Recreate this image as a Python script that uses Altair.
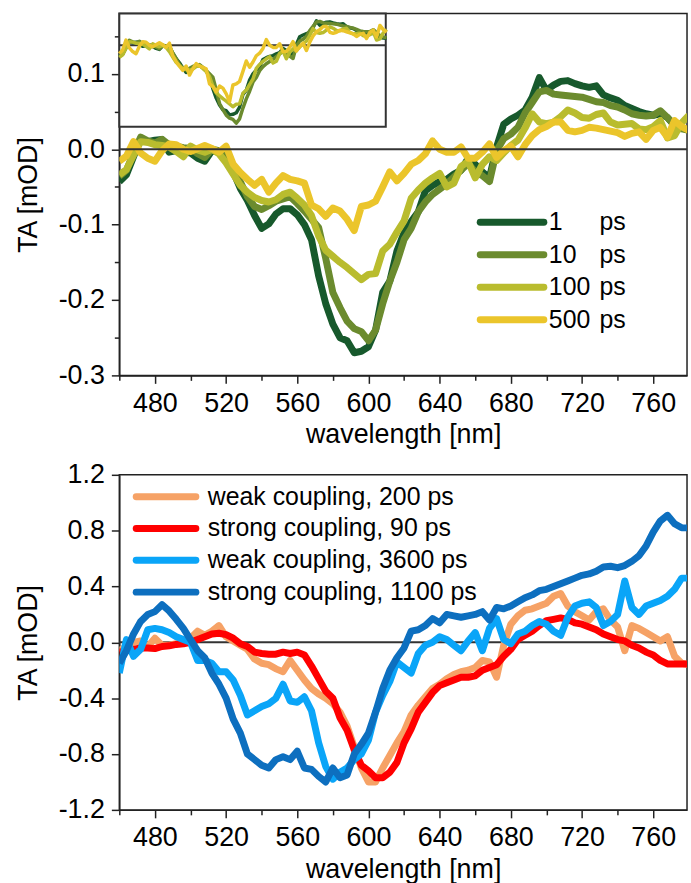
import altair as alt
import pandas as pd

# ---------------- data ----------------
wavelength = [460, 464, 468, 472, 476, 480, 484, 488, 492, 496, 500, 504, 508, 512, 516, 520,
              524, 528, 532, 536, 540, 544, 548, 552, 556, 560, 564, 568, 572, 576, 580, 584,
              588, 592, 596, 600, 604, 608, 612, 616, 620, 624, 628, 632, 636, 640, 644, 648,
              652, 656, 660, 664, 668, 672, 676, 680, 684, 688, 692, 696, 700, 704, 708, 712,
              716, 720, 724, 728, 732, 736, 740, 744, 748, 752, 756, 760, 764, 768, 772, 776, 780]

ta_1ps = [-0.043, -0.034, -0.010, 0.014, 0.010, 0.012, 0.013, -0.004, -0.002, -0.003, -0.005, -0.012,
          -0.016, -0.002, -0.004, -0.006, -0.030, -0.052, -0.068, -0.088, -0.105, -0.099, -0.086, -0.079,
          -0.079, -0.087, -0.100, -0.120, -0.168, -0.205, -0.232, -0.250, -0.254, -0.270, -0.268, -0.262,
          -0.240, -0.190, -0.175, -0.135, -0.111, -0.096, -0.083, -0.055, -0.048, -0.043, -0.040, -0.033,
          -0.028, -0.012, -0.020, -0.030, -0.038, 0.003, 0.033, 0.040, 0.045, 0.052, 0.069, 0.095,
          0.078, 0.085, 0.090, 0.091, 0.087, 0.084, 0.082, 0.084, 0.072, 0.068, 0.065, 0.058,
          0.054, 0.050, 0.047, 0.045, 0.047, 0.042, 0.031, 0.028, 0.027]
ta_10ps = [-0.036, -0.028, -0.005, 0.016, 0.011, 0.008, 0.013, 0.006, 0.004, 0.002, 0.001, -0.006,
           -0.011, 0.000, -0.002, -0.003, -0.025, -0.043, -0.063, -0.076, -0.080, -0.075, -0.069, -0.066,
           -0.063, -0.072, -0.082, -0.093, -0.104, -0.145, -0.190, -0.210, -0.228, -0.238, -0.242, -0.254,
           -0.240, -0.205, -0.175, -0.150, -0.120, -0.105, -0.083, -0.070, -0.060, -0.053, -0.046, -0.037,
           -0.028, -0.019, -0.030, -0.035, -0.043, -0.002, 0.014, 0.020, 0.029, 0.048, 0.062, 0.076,
           0.078, 0.073, 0.072, 0.071, 0.070, 0.069, 0.066, 0.063, 0.062, 0.058, 0.056, 0.052,
           0.047, 0.045, 0.044, 0.045, 0.051, 0.042, 0.032, 0.027, 0.025]
ta_100ps = [-0.034, -0.027, -0.008, 0.010, 0.009, 0.006, 0.005, 0.003, -0.003, -0.010, 0.004, -0.001,
            -0.004, 0.000, -0.006, -0.018, -0.033, -0.048, -0.057, -0.064, -0.068, -0.070, -0.067, -0.060,
            -0.057, -0.065, -0.074, -0.088, -0.115, -0.134, -0.142, -0.150, -0.157, -0.165, -0.173, -0.166,
            -0.165, -0.135, -0.126, -0.110, -0.095, -0.065, -0.054, -0.045, -0.038, -0.032, -0.050, -0.045,
            -0.023, -0.016, -0.038, -0.020, -0.010, -0.015, -0.005, 0.005, 0.012, 0.028, 0.047, 0.036,
            0.034, 0.036, 0.043, 0.052, 0.048, 0.042, 0.041, 0.046, 0.048, 0.036, 0.032, 0.033,
            0.034, 0.027, 0.026, 0.030, 0.038, 0.015, 0.018, 0.035, 0.045]
ta_500ps = [-0.016, -0.009, 0.010, -0.005, -0.012, -0.016, -0.002, 0.007, 0.006, 0.000, -0.003, 0.001,
            0.005, 0.001, -0.004, 0.004, -0.020, -0.031, -0.040, -0.048, -0.040, -0.057, -0.045, -0.035,
            -0.040, -0.042, -0.045, -0.074, -0.079, -0.089, -0.078, -0.082, -0.093, -0.108, -0.076, -0.074,
            -0.069, -0.050, -0.030, -0.042, -0.032, -0.020, -0.015, -0.006, 0.011, 0.000, -0.004, -0.004,
            0.003, -0.012, -0.012, -0.004, 0.007, -0.011, -0.002, 0.004, -0.010, 0.006, 0.018, 0.026,
            0.030, 0.036, 0.036, 0.025, 0.023, 0.025, 0.029, 0.028, 0.026, 0.024, 0.022, 0.017,
            0.021, 0.023, 0.013, 0.025, 0.029, 0.016, 0.038, 0.030, 0.025]

top_numbers = ["1", "10", "100", "500"]
top_colors = ["#17592c", "#6b8b2e", "#b9bc2e", "#ebc52b"]
inset_scale = [3.7, 4.4, 5.1, 7.5]

weak_200 = [-0.06, -0.03, 0.00, 0.01, -0.03, 0.03, -0.02, -0.02, -0.01, 0.00, 0.03, 0.08,
            0.05, 0.08, 0.12, 0.04, 0.01, -0.02, -0.05, -0.12, -0.15, -0.16, -0.19, -0.21,
            -0.13, -0.20, -0.27, -0.33, -0.37, -0.40, -0.44, -0.50, -0.60, -0.75, -0.90, -1.00,
            -1.00, -0.90, -0.81, -0.72, -0.64, -0.52, -0.45, -0.39, -0.33, -0.30, -0.26, -0.23,
            -0.21, -0.20, -0.18, -0.13, -0.14, -0.25, -0.02, 0.13, 0.19, 0.23, 0.24, 0.26,
            0.28, 0.33, 0.35, 0.26, 0.22, 0.19, 0.16, 0.22, 0.24, 0.16, 0.11, -0.06,
            0.12, 0.10, 0.07, 0.04, 0.01, 0.04, -0.10, -0.15, -0.16]
strong_90 = [-0.07, -0.06, -0.05, -0.04, -0.04, -0.045, -0.03, -0.025, -0.015, -0.01, 0.00, 0.02,
             0.04, 0.06, 0.065, 0.055, 0.03, -0.01, -0.03, -0.07, -0.08, -0.085, -0.085, -0.07,
             -0.08, -0.07, -0.09, -0.17, -0.26, -0.35, -0.40, -0.54, -0.63, -0.77, -0.88, -0.92,
             -0.97, -0.97, -0.93, -0.86, -0.72, -0.62, -0.50, -0.43, -0.36, -0.31, -0.29, -0.27,
             -0.25, -0.25, -0.24, -0.20, -0.18, -0.16, -0.10, -0.05, 0.02, 0.05, 0.08, 0.12,
             0.155, 0.165, 0.175, 0.165, 0.14, 0.13, 0.11, 0.09, 0.06, 0.04, 0.02, 0.01,
             -0.02, -0.04, -0.07, -0.09, -0.13, -0.155, -0.155, -0.155, -0.155]
weak_3600 = [-0.22, 0.02, -0.10, -0.05, 0.09, 0.10, 0.09, 0.07, 0.04, 0.02, 0.00, -0.13,
             -0.13, -0.15, -0.21, -0.21, -0.27, -0.38, -0.52, -0.49, -0.46, -0.44, -0.40, -0.30,
             -0.42, -0.43, -0.39, -0.49, -0.72, -0.89, -0.98, -0.93, -0.90, -0.84, -0.80, -0.70,
             -0.50, -0.38, -0.28, -0.14, -0.18, -0.22, -0.08, -0.02, 0.00, 0.04, 0.02, -0.02,
             -0.06, 0.01, 0.07, -0.06, 0.10, 0.17, 0.02, -0.01, 0.06, 0.08, 0.12, 0.15,
             0.13, 0.08, 0.05, 0.18, 0.26, 0.28, 0.29, 0.25, 0.12, 0.15, 0.20, 0.44,
             0.25, 0.20, 0.26, 0.28, 0.30, 0.33, 0.38, 0.46, 0.46]
strong_1100 = [-0.15, -0.06, 0.06, 0.15, 0.20, 0.22, 0.27, 0.225, 0.165, 0.10, 0.02, -0.06,
               -0.11, -0.22, -0.30, -0.40, -0.55, -0.65, -0.80, -0.84, -0.88, -0.90, -0.84, -0.82,
               -0.84, -0.78, -0.90, -0.91, -0.96, -1.00, -0.90, -0.97, -0.95, -0.80, -0.73, -0.65,
               -0.50, -0.33, -0.20, -0.11, -0.04, 0.08, 0.09, 0.12, 0.17, 0.14, 0.20, 0.19,
               0.18, 0.19, 0.20, 0.22, 0.16, 0.25, 0.24, 0.26, 0.29, 0.32, 0.34, 0.37,
               0.38, 0.40, 0.42, 0.44, 0.46, 0.48, 0.49, 0.51, 0.54, 0.545, 0.535, 0.55,
               0.58, 0.62, 0.69, 0.79, 0.87, 0.91, 0.85, 0.82, 0.82]

bottom_labels = ["weak coupling, 200 ps", "strong coupling, 90 ps",
                 "weak coupling, 3600 ps", "strong coupling, 1100 ps"]
bottom_colors = ["#f6a266", "#ff0000", "#0aa5f8", "#0d6fbf"]

# ---------------- tables ----------------
top_rows = []
for i, (num, vals) in enumerate(zip(top_numbers, [ta_1ps, ta_10ps, ta_100ps, ta_500ps])):
    for w, v in zip(wavelength, vals):
        top_rows.append({"wl": w, "ta": v, "inset": v * inset_scale[i], "series": num, "k": i})
top_df = pd.DataFrame(top_rows)

bot_rows = []
for i, (lab, vals) in enumerate(zip(bottom_labels, [weak_200, strong_90, weak_3600, strong_1100])):
    for w, v in zip(wavelength, vals):
        bot_rows.append({"wl": w, "ta": v, "series": lab, "k": i})
bot_df = pd.DataFrame(bot_rows)

top_leg = pd.DataFrame({"row": [0, 1, 2, 3], "series": top_numbers, "unit": ["ps"] * 4})
bot_leg = pd.DataFrame({"row": [0, 1, 2, 3], "series": bottom_labels})

FONT = "Liberation Sans, Arial, sans-serif"
X_DOMAIN = [460, 779]
MINUS = "\u2212"

x_major = "datum.value % 40 == 0"
x_axis = alt.Axis(
    values=list(range(460, 780, 20)),
    labelExpr=f"{x_major} ? datum.label : ''",
    tickSize={"condition": {"test": x_major, "value": 8}, "value": 5},
    title="wavelength [nm]",
)

top_major = "abs(datum.value*10 - round(datum.value*10)) < 0.001"
top_y_axis = alt.Axis(
    values=[-0.3, -0.25, -0.2, -0.15, -0.1, -0.05, 0.0, 0.05, 0.1, 0.15],
    labelExpr=f"{top_major} ? replace(format(datum.value, '.1f'), '{MINUS}', '-') : ''",
    tickSize={"condition": {"test": top_major, "value": 8}, "value": 5},
    title="TA [mOD]",
)

bot_major = "abs(datum.value/0.4 - round(datum.value/0.4)) < 0.001"
bot_y_axis = alt.Axis(
    values=[-1.2, -1.0, -0.8, -0.6, -0.4, -0.2, 0.0, 0.2, 0.4, 0.6, 0.8, 1.0, 1.2],
    labelExpr=f"{bot_major} ? replace(format(datum.value, '.1f'), '{MINUS}', '-') : ''",
    tickSize={"condition": {"test": bot_major, "value": 8}, "value": 5},
    title="TA [mOD]",
)

top_color = alt.Color("series:N", scale=alt.Scale(domain=top_numbers, range=top_colors), legend=None)
bot_color = alt.Color("series:N", scale=alt.Scale(domain=bottom_labels, range=bottom_colors), legend=None)

# ---------------- top panel ----------------
top_x = alt.X("wl:Q", scale=alt.Scale(domain=X_DOMAIN, nice=False, zero=False), axis=x_axis)
top_lines = alt.Chart(top_df).mark_line(strokeWidth=7, strokeJoin="round", clip=True).encode(
    x=top_x,
    y=alt.Y("ta:Q", scale=alt.Scale(domain=[-0.3, 0.18], nice=False, zero=False), axis=top_y_axis),
    color=top_color,
    detail="k:O",
)
zero_top = alt.Chart(pd.DataFrame({"y": [0.0]})).mark_rule(color="#333333", strokeWidth=2).encode(y="y:Q")
top_main = alt.layer(top_lines, zero_top)

ix = alt.Scale(domain=X_DOMAIN, range=[0, 268], nice=False, zero=False)
iy = alt.Scale(domain=[-1.171, 0.457], range=[114, 0], nice=False, zero=False)
inset_bg = alt.Chart(pd.DataFrame({"x": [X_DOMAIN[0]], "x2": [X_DOMAIN[1]], "y": [-1.171], "y2": [0.457]})).mark_rect(
    fill="white", stroke="#333333", strokeWidth=2
).encode(x=alt.X("x:Q", scale=ix, axis=None), x2="x2", y=alt.Y("y:Q", scale=iy, axis=None), y2="y2")
inset_zero = alt.Chart(pd.DataFrame({"x": [X_DOMAIN[0]], "x2": [X_DOMAIN[1]], "y": [0.0]})).mark_rule(
    color="#333333", strokeWidth=2
).encode(x=alt.X("x:Q", scale=ix, axis=None), x2="x2", y=alt.Y("y:Q", scale=iy, axis=None))
inset_lines = alt.Chart(top_df).mark_line(strokeWidth=3.5, strokeJoin="round", clip=False).encode(
    x=alt.X("wl:Q", scale=ix, axis=None),
    y=alt.Y("inset:Q", scale=iy, axis=None),
    color=top_color,
    detail="k:O",
)
top_inset = alt.layer(inset_bg, inset_zero, inset_lines)

ty = alt.Y("row:Q", scale=alt.Scale(domain=[0, 3], range=[210, 308]), axis=None)
tl_rule = alt.Chart(top_leg).mark_rule(strokeWidth=7, strokeCap="round").encode(
    x=alt.value(363), x2=alt.value(427), y=ty, color=top_color
)
tl_num = alt.Chart(top_leg).mark_text(align="left", baseline="middle", fontSize=25, font=FONT, color="black").encode(
    x=alt.value(432), y=ty, text="series:N"
)
tl_unit = alt.Chart(top_leg).mark_text(align="left", baseline="middle", fontSize=25, font=FONT, color="black").encode(
    x=alt.value(483), y=ty, text="unit:N"
)
top_legend = alt.layer(tl_rule, tl_num, tl_unit)

top = alt.layer(top_main, top_inset, top_legend).resolve_scale(x="independent", y="independent").properties(
    width=571, height=364
)

# ---------------- bottom panel ----------------
bot_lines = alt.Chart(bot_df).mark_line(strokeWidth=7, strokeJoin="round", clip=True).encode(
    x=alt.X("wl:Q", scale=alt.Scale(domain=X_DOMAIN, nice=False, zero=False), axis=x_axis),
    y=alt.Y("ta:Q", scale=alt.Scale(domain=[-1.2, 1.2], nice=False, zero=False), axis=bot_y_axis),
    color=bot_color,
    detail="k:O",
)
zero_bot = alt.Chart(pd.DataFrame({"y": [0.0]})).mark_rule(color="#333333", strokeWidth=2).encode(y="y:Q")
bot_main = alt.layer(zero_bot, bot_lines)

by = alt.Y("row:Q", scale=alt.Scale(domain=[0, 3], range=[22, 118]), axis=None)
bl_rule = alt.Chart(bot_leg).mark_rule(strokeWidth=7, strokeCap="round").encode(
    x=alt.value(17), x2=alt.value(77), y=by, color=bot_color
)
bl_text = alt.Chart(bot_leg).mark_text(align="left", baseline="middle", fontSize=25, font=FONT, color="black").encode(
    x=alt.value(89), y=by, text="series:N"
)
bot_legend = alt.layer(bl_rule, bl_text)

bottom = alt.layer(bot_main, bot_legend).resolve_scale(y="independent").properties(width=571, height=337)

chart = alt.vconcat(top, bottom, spacing=11).resolve_scale(color="independent").properties(
    padding={"left": 13, "top": 9, "right": 2, "bottom": 0},
    background="white",
).configure_view(
    stroke="#222222", strokeWidth=1.5
).configure_axis(
    labelFont=FONT, titleFont=FONT, labelFontSize=27, titleFontSize=27, titleFontWeight="normal",
    labelColor="black", titleColor="black", domainColor="#222222", domainWidth=1.5,
    tickColor="#222222", tickWidth=1.5, grid=False, labelOverlap=False, labelPadding=7,
    labelFlush=False,
).configure_axisX(
    titlePadding=6
).configure_axisY(
    titlePadding=16
)

chart.save("out.html", embed_options={"renderer": "svg", "actions": False})
